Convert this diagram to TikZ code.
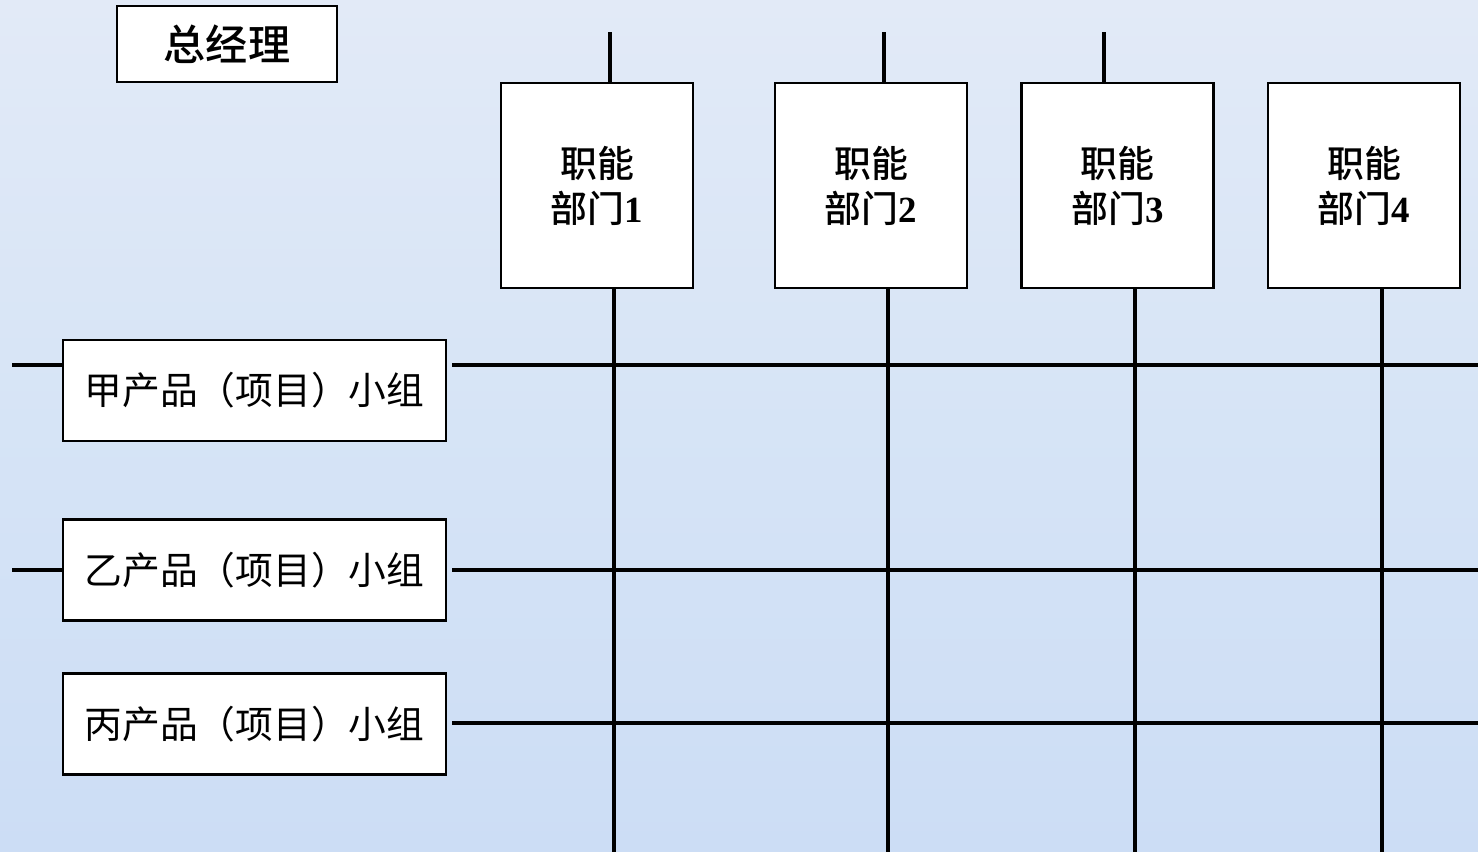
\documentclass[tikz,border=0pt]{standalone}
\usepackage{fontspec}
\newfontfamily\cjk{Noto Sans CJK SC}
\newfontfamily\cjkmid{Noto Sans CJK SC}[UprightFont=* Medium]
\newfontfamily\numfont{Liberation Serif}
\usepackage{tikz}
\tikzset{
	box/.style={
		draw,
		fill = white,
		line width = 1.2pt,
		inner sep = 0pt,
		align = center
	},
	dept/.style={
		box,
		minimum width = 3.84cm,
		minimum height = 4.1cm,
		font = \cjkmid\fontsize{21}{25.6}\selectfont
	},
	team/.style={
		box,
		minimum width = 7.66cm,
		minimum height = 2.02cm,
		font = \cjk\fontsize{21.5}{24}\selectfont
	},
	boss/.style={
		box,
		minimum width = 4.4cm,
		minimum height = 1.52cm,
		font = \cjkmid\fontsize{24}{28}\selectfont
	},
	wire/.style={line width = 1.8pt},
}

\begin{document}
\begin{tikzpicture}[x=0.02cm, y=-0.02cm]
    \shade[top color={rgb,255:red,226;green,234;blue,247}, bottom color={rgb,255:red,204;green,221;blue,245}, middle color={rgb,255:red,214;green,228;blue,246}]
      (0,0) rectangle (1478,852);
    \useasboundingbox (0,0) rectangle (1478,852);
    \node[boss] (gm) at (227,44) {总经理};
    % departments: centre x / top stub x / line x
    \foreach \i/\cx/\sx/\bx in {1/597/610/614, 2/871/884/888, 3/1117.5/1104/1135, 4/1364/0/1382}{
      \node[dept] (d\i) at (\cx,185.5) {职能\\部门{\numfont\bfseries \i}};
      \coordinate (b\i) at (\bx,852);
      \draw[wire] (b\i |- d\i.south) -- (b\i);
      \ifnum\sx>0
        \coordinate (s\i) at (\sx,32);
        \draw[wire] (s\i) -- (s\i |- d\i.north);
      \fi
    }
    % product teams
    \foreach \j/\name/\cy/\ly/\stub in {1/甲/390.5/365/1, 2/乙/570/570/1, 3/丙/724/723/0}{
      \node[team] (t\j) at (254.5,\cy) {\name 产品（项目）小组};
      \coordinate (r\j) at (1478,\ly);
      \draw[wire] ([xshift=0.1cm]t\j.east |- r\j) -- (r\j);
      \ifnum\stub=1
        \coordinate (l\j) at (12,\ly);
        \draw[wire] (l\j) -- (t\j.west |- l\j);
      \fi
    }
  \end{tikzpicture}
\end{document}
